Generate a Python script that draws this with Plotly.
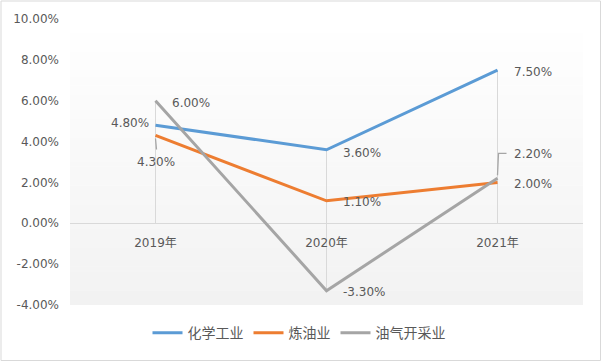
import plotly.graph_objects as go

categories = ["2019年", "2020年", "2021年"]
series_names = ["化学工业", "炼油业", "油气开采业"]
chem = [4.8, 3.6, 7.5]
refine = [4.3, 1.1, 2.0]
oilgas = [6.0, -3.3, 2.2]
y_ticks = [-4, -2, 0, 2, 4, 6, 8, 10]

colors = ["#5b9bd5", "#ed7d31", "#a5a5a5"]
series = [chem, refine, oilgas]

# label placement styles: (xanchor, yanchor, xshift, yshift)
label_styles = [
    [("right", "middle", -5, 2), ("left", "middle", 14, -3), ("left", "middle", 14, -2)],
    [("center", "middle", 0, -27), ("left", "middle", 14, -1), ("left", "middle", 14, -2)],
    [("left", "middle", 14, -2), ("left", "middle", 14, -1), ("left", "middle", 14, 24)],
]

font_family = "DejaVu Sans, Noto Sans CJK SC, sans-serif"
txt = "#595959"

fig = go.Figure()

# gradient background for plot area
n = 60
shapes = []
for i in range(n):
    t = i / (n - 1)
    c = int(round(255 - (255 - 242) * (1 - t)))
    shapes.append(dict(type="rect", xref="x domain", yref="y domain",
                       x0=0, x1=1, y0=i / n, y1=(i + 1) / n + 0.002,
                       fillcolor=f"rgb({c},{c},{c})", line=dict(width=0), layer="below"))

# drop lines from each point to category axis
for xi, cat in enumerate(categories):
    vals = [s[xi] for s in series]
    hi = max(max(vals), 0)
    lo = min(min(vals), 0)
    shapes.append(dict(type="line", xref="x", yref="y", x0=cat, x1=cat, y0=lo, y1=hi,
                       line=dict(color="#d9d9d9", width=1), layer="below"))

# leader lines for labels
shapes.append(dict(type="path", xref="x", yref="y", xsizemode="pixel", ysizemode="pixel",
                   xanchor=categories[2], yanchor=oilgas[2],
                   path="M0,3 L1,25 L9,25", line=dict(color="#a6a6a6", width=1.3)))
shapes.append(dict(type="path", xref="x", yref="y", xsizemode="pixel", ysizemode="pixel",
                   xanchor=categories[0], yanchor=refine[0],
                   path="M0,-3 L1,-14", line=dict(color="#a6a6a6", width=1.3)))

# outer border
shapes.append(dict(type="rect", xref="paper", yref="paper",
                   x0=(1 - 70) / 513, x1=(600.5 - 70) / 513,
                   y0=(305 - 360.5) / 286, y1=(305 - 1) / 286,
                   line=dict(color="#d9d9d9", width=1), fillcolor="rgba(0,0,0,0)"))

for name, vals, col in zip(series_names, series, colors):
    fig.add_trace(go.Scatter(x=categories, y=vals, mode="lines", name=name,
                             line=dict(color=col, width=3), hoverinfo="skip"))

annotations = []
for si, vals in enumerate(series):
    for xi, v in enumerate(vals):
        xa, ya, xs, ys = label_styles[si][xi]
        annotations.append(dict(x=categories[xi], y=v, xref="x", yref="y",
                                text=f"{v:.2f}%", showarrow=False,
                                xanchor=xa, yanchor=ya, xshift=xs, yshift=ys,
                                font=dict(size=12, color=txt, family=font_family)))

fig.update_layout(
    width=602, height=362,
    margin=dict(l=70, r=19, t=19, b=57, autoexpand=False),
    paper_bgcolor="white", plot_bgcolor="rgba(0,0,0,0)",
    shapes=shapes, annotations=annotations,
    showlegend=True,
    legend=dict(orientation="h", x=(299 - 70) / 513, xanchor="center",
                y=-0.098, yanchor="middle",
                font=dict(size=14, color=txt, family=font_family),
                itemwidth=30, tracegroupgap=0, bgcolor="rgba(0,0,0,0)"),
    xaxis=dict(type="category", range=[-0.5, 2.5], anchor="free", position=4 / 14,
               showgrid=False, showline=False, zeroline=False, ticks="",
               tickfont=dict(size=12, color=txt, family=font_family),
               ticklabelstandoff=11),
    yaxis=dict(range=[-4, 10], tickvals=y_ticks,
               ticktext=[f"{v:.2f}%" for v in y_ticks],
               showgrid=False, zeroline=True, zerolinecolor="#d9d9d9", zerolinewidth=1,
               showline=False, ticks="",
               tickfont=dict(size=12, color=txt, family=font_family),
               ticklabelstandoff=10),
)

fig.write_html("out.html", config={"displayModeBar": False},
               post_script="document.body.style.margin='0';document.body.style.padding='0';")
